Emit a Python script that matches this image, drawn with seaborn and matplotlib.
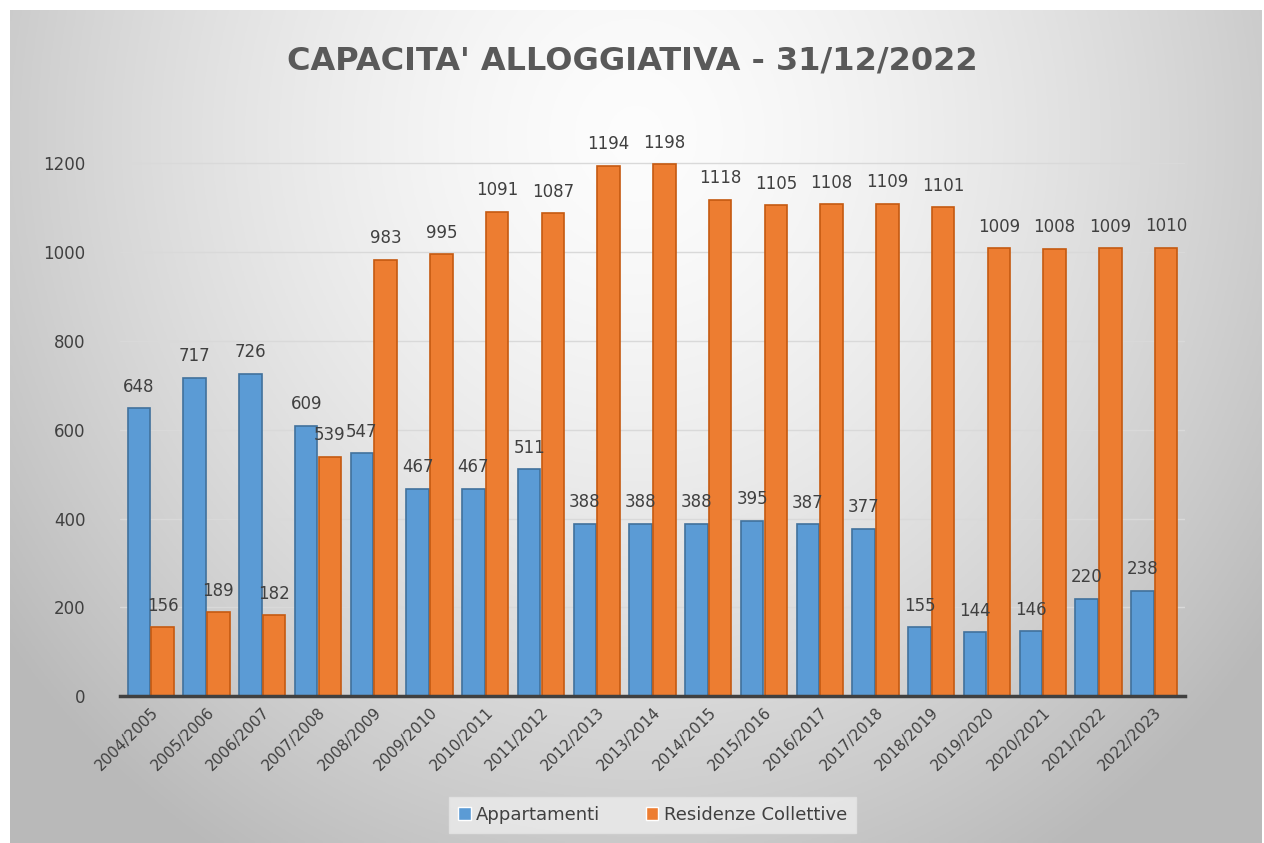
import matplotlib
matplotlib.use("Agg")
import matplotlib.pyplot as plt
import pandas as pd
import seaborn as sns
import numpy as np

anni = ["2004/2005", "2005/2006", "2006/2007", "2007/2008", "2008/2009", "2009/2010",
        "2010/2011", "2011/2012", "2012/2013", "2013/2014", "2014/2015", "2015/2016",
        "2016/2017", "2017/2018", "2018/2019", "2019/2020", "2020/2021", "2021/2022",
        "2022/2023"]
appartamenti = [648, 717, 726, 609, 547, 467, 467, 511, 388, 388, 388, 395, 387, 377,
                155, 144, 146, 220, 238]
residenze = [156, 189, 182, 539, 983, 995, 1091, 1087, 1194, 1198, 1118, 1105, 1108,
             1109, 1101, 1009, 1008, 1009, 1010]
serie = ["Appartamenti", "Residenze Collettive"]

df = pd.DataFrame({"anno": anni, serie[0]: appartamenti, serie[1]: residenze})
df = df.melt(id_vars="anno", var_name="serie", value_name="valore")

sns.set_style("white")
plt.rcParams['font.family'] = ['DejaVu Sans']

fig = plt.figure(figsize=(12.64, 8.43), dpi=100)
fig.patch.set_facecolor("white")

# sfondo sfumato
bg = fig.add_axes([10 / 1264, 0, 1252 / 1264, 833 / 843])
yy, xx = np.mgrid[-1:1:300j, -1:1:400j]
r = np.clip(np.sqrt((xx / 1.05) ** 2 + ((yy + 0.7) / 1.7) ** 2), 0, 1.2)
g = 0.99 - 0.2 * r ** 1.5
bg.imshow(np.dstack([g, g, g]), aspect="auto", extent=[0, 1, 0, 1], origin="upper")
bg.set_axis_off()

ax = fig.add_axes([0.095, 0.174, 0.8425, 0.685])
ax.patch.set_alpha(0)
sns.barplot(data=df, x="anno", y="valore", hue="serie", ax=ax,
            palette=["#5b9bd5", "#ed7d31"], saturation=1, width=0.85, gap=0.05)
for i, c in enumerate(ax.containers):
    for p in c:
        p.set_edgecolor(["#41719c", "#c55a11"][i])
        p.set_linewidth(1.2)
    ax.bar_label(c, fontsize=12, color="#404040", padding=9)

ax.set_ylim(0, 1300)
ax.set_yticks(range(0, 1201, 200))
ax.yaxis.grid(True, color="#d9d9d9", linewidth=1)
ax.set_axisbelow(True)
ax.set_xlim(-0.55, len(anni) - 0.45)
ax.set_xlabel("")
ax.set_ylabel("")
for s in ["top", "right", "left"]:
    ax.spines[s].set_visible(False)
ax.spines["bottom"].set_color("#404040")
ax.spines["bottom"].set_linewidth(2.5)
ax.tick_params(axis="y", length=0, labelsize=12, labelcolor="#404040", pad=25)
ax.tick_params(axis="x", length=0, labelsize=11, labelcolor="#404040", pad=6)
plt.setp(ax.get_xticklabels(), rotation=45, ha="right", rotation_mode="anchor")

fig.text(0.5, 0.928, "CAPACITA' ALLOGGIATIVA - 31/12/2022", ha="center", va="center",
         fontsize=23, color="#595959", fontweight="bold")

ax.legend(loc="center", bbox_to_anchor=(0.5, -0.205), ncol=2, frameon=True,
          fontsize=13, handlelength=0.7, handleheight=0.7, columnspacing=2.5,
          handletextpad=0.3, facecolor="#ececec", edgecolor="#e3e3e3",
          labelcolor="#404040", borderpad=0.5, fancybox=False)

fig.savefig("out.png", dpi=100)
